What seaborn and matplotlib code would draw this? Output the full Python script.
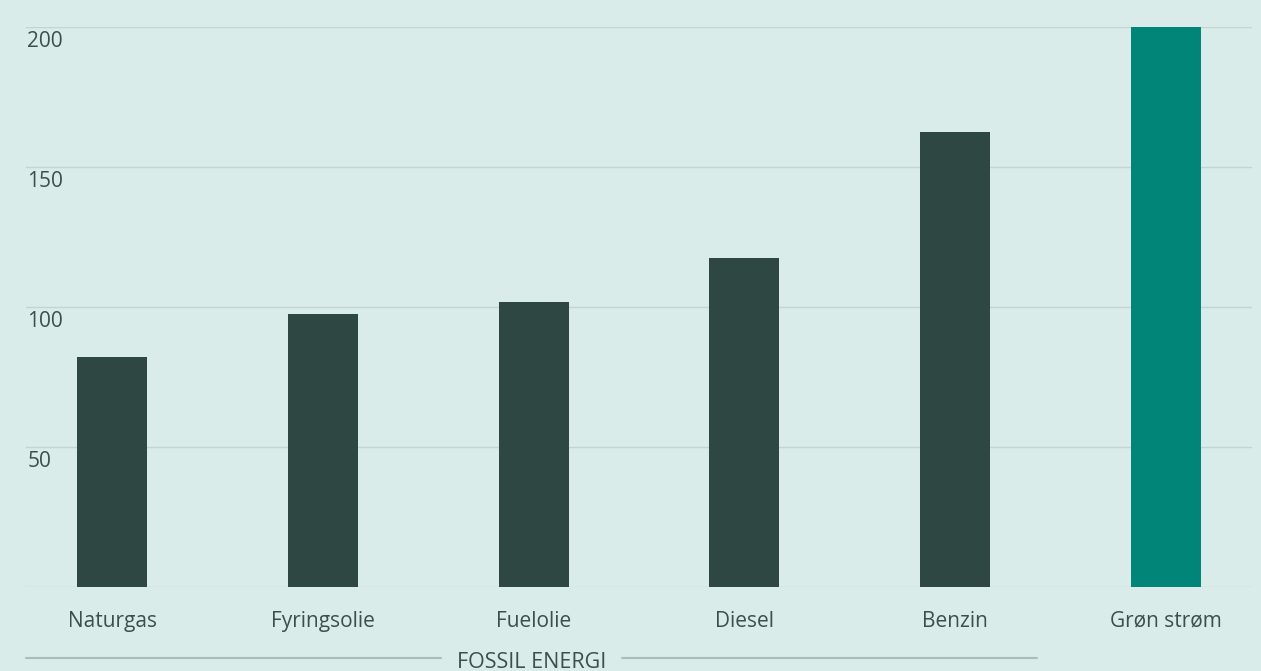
import matplotlib
matplotlib.use('Agg')
import matplotlib.pyplot as plt
import seaborn as sns
import pandas as pd

# data
categories = ['Naturgas', 'Fyringsolie', 'Fuelolie', 'Diesel', 'Benzin', 'Grøn strøm']
values = [82, 97.5, 101.8, 117.5, 162.5, 200]
groups = ['fossil', 'fossil', 'fossil', 'fossil', 'fossil', 'grøn']
y_ticks = [50, 100, 150, 200]
group_label = 'FOSSIL ENERGI'

bg = '#d9ecea'
dark = '#2e4743'
teal = '#008578'
text_col = '#3b4f4b'
grid_col = '#c3d5d2'

df = pd.DataFrame({'kategori': categories, 'værdi': values, 'gruppe': groups})

sns.set_theme(style='white')
plt.rcParams['font.family'] = ['Open Sans', 'DejaVu Sans']

fig = plt.figure(figsize=(12.61, 6.71), dpi=100, facecolor=bg)
ax = fig.add_axes([26 / 1261, 84 / 671, 1226 / 1261, 560 / 671])
ax.set_facecolor(bg)

sns.barplot(data=df, x='kategori', y='værdi', hue='gruppe',
            palette={'fossil': dark, 'grøn': teal}, dodge=False, saturation=1,
            width=0.332, linewidth=0, legend=False, ax=ax, zorder=3)

ax.set_xlim(-0.408, 5.408)
ax.set_ylim(0, 200)
for s in ax.spines.values():
    s.set_visible(False)

# gridlines incl. baseline
ax.set_yticks([0] + y_ticks)
ax.yaxis.grid(True, color=grid_col, linewidth=1, zorder=0)
ax.set_yticklabels([])
ax.tick_params(axis='y', length=0)
for t in y_ticks:
    ax.text(0.001, t - 1.3, str(t), transform=ax.get_yaxis_transform(),
            ha='left', va='top', fontsize=15, color=text_col)

ax.tick_params(axis='x', length=0, pad=17, labelsize=15, labelcolor=text_col)
ax.set_xlabel('')
ax.set_ylabel('')

# group bracket below the fossil categories
line_y = -71 / 560
x_left = -0.408
x_right = 4.388
mid = (x_left + x_right) / 2
ax.text(mid, line_y - 0.008, group_label, transform=ax.get_xaxis_transform(),
        ha='center', va='center', fontsize=15.5, color=text_col, clip_on=False)
gap = 0.43
ax.plot([x_left, mid - gap], [line_y, line_y], transform=ax.get_xaxis_transform(),
        color='#a9bdb9', linewidth=1.5, clip_on=False)
ax.plot([mid + gap, x_right], [line_y, line_y], transform=ax.get_xaxis_transform(),
        color='#a9bdb9', linewidth=1.5, clip_on=False)

fig.savefig('out.png', dpi=100, facecolor=bg)
